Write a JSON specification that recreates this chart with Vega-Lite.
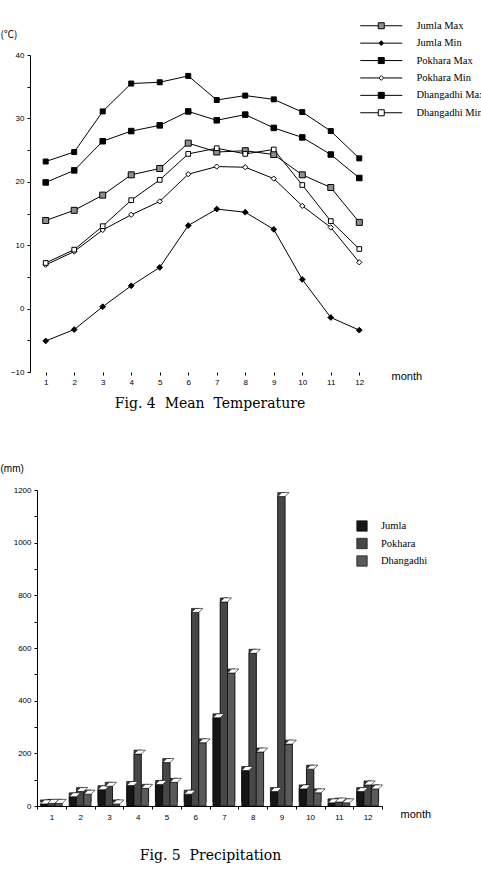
{
  "$schema": "https://vega.github.io/schema/vega-lite/v6.json",
  "padding": {"left": 0, "top": 20, "right": 0, "bottom": 0},
  "background": "white",
  "columns": 1,
  "align": "none",
  "bounds": "full",
  "spacing": 52,
  "config": {
    "view": {"stroke": null},
    "axis": {
      "grid": false,
      "domainColor": "black",
      "domainWidth": 1,
      "tickColor": "black",
      "tickWidth": 1,
      "labelColor": "black",
      "labelFont": "Liberation Sans",
      "labelFontSize": 8,
      "titleColor": "black",
      "titleFontWeight": "normal",
      "labelOverlap": false
    },
    "legend": {
      "orient": "none",
      "padding": 0,
      "labelColor": "black",
      "labelFont": "Liberation Serif",
      "labelFontSize": 10.5
    }
  },
  "resolve": {
    "scale": {"fill": "independent", "shape": "independent"},
    "legend": {"fill": "independent", "shape": "independent"}
  },
  "datasets": {
    "temp": [
      {"month": 1, "series": "Jumla Max", "t": 13.9}, {"month": 2, "series": "Jumla Max", "t": 15.5}, {"month": 3, "series": "Jumla Max", "t": 17.9}, {"month": 4, "series": "Jumla Max", "t": 21.1}, {"month": 5, "series": "Jumla Max", "t": 22.1}, {"month": 6, "series": "Jumla Max", "t": 26.1}, {"month": 7, "series": "Jumla Max", "t": 24.7}, {"month": 8, "series": "Jumla Max", "t": 24.9}, {"month": 9, "series": "Jumla Max", "t": 24.3}, {"month": 10, "series": "Jumla Max", "t": 21.1}, {"month": 11, "series": "Jumla Max", "t": 19.1}, {"month": 12, "series": "Jumla Max", "t": 13.6},
      {"month": 1, "series": "Jumla Min", "t": -5.1}, {"month": 2, "series": "Jumla Min", "t": -3.3}, {"month": 3, "series": "Jumla Min", "t": 0.3}, {"month": 4, "series": "Jumla Min", "t": 3.6}, {"month": 5, "series": "Jumla Min", "t": 6.5}, {"month": 6, "series": "Jumla Min", "t": 13.1}, {"month": 7, "series": "Jumla Min", "t": 15.7}, {"month": 8, "series": "Jumla Min", "t": 15.2}, {"month": 9, "series": "Jumla Min", "t": 12.5}, {"month": 10, "series": "Jumla Min", "t": 4.6}, {"month": 11, "series": "Jumla Min", "t": -1.4}, {"month": 12, "series": "Jumla Min", "t": -3.4},
      {"month": 1, "series": "Pokhara Max", "t": 19.9}, {"month": 2, "series": "Pokhara Max", "t": 21.8}, {"month": 3, "series": "Pokhara Max", "t": 26.4}, {"month": 4, "series": "Pokhara Max", "t": 28.0}, {"month": 5, "series": "Pokhara Max", "t": 28.9}, {"month": 6, "series": "Pokhara Max", "t": 31.1}, {"month": 7, "series": "Pokhara Max", "t": 29.7}, {"month": 8, "series": "Pokhara Max", "t": 30.6}, {"month": 9, "series": "Pokhara Max", "t": 28.5}, {"month": 10, "series": "Pokhara Max", "t": 27.0}, {"month": 11, "series": "Pokhara Max", "t": 24.3}, {"month": 12, "series": "Pokhara Max", "t": 20.6},
      {"month": 1, "series": "Pokhara Min", "t": 6.9}, {"month": 2, "series": "Pokhara Min", "t": 9.0}, {"month": 3, "series": "Pokhara Min", "t": 12.4}, {"month": 4, "series": "Pokhara Min", "t": 14.8}, {"month": 5, "series": "Pokhara Min", "t": 16.9}, {"month": 6, "series": "Pokhara Min", "t": 21.2}, {"month": 7, "series": "Pokhara Min", "t": 22.4}, {"month": 8, "series": "Pokhara Min", "t": 22.3}, {"month": 9, "series": "Pokhara Min", "t": 20.5}, {"month": 10, "series": "Pokhara Min", "t": 16.2}, {"month": 11, "series": "Pokhara Min", "t": 12.8}, {"month": 12, "series": "Pokhara Min", "t": 7.3},
      {"month": 1, "series": "Dhangadhi Max", "t": 23.2}, {"month": 2, "series": "Dhangadhi Max", "t": 24.7}, {"month": 3, "series": "Dhangadhi Max", "t": 31.1}, {"month": 4, "series": "Dhangadhi Max", "t": 35.5}, {"month": 5, "series": "Dhangadhi Max", "t": 35.7}, {"month": 6, "series": "Dhangadhi Max", "t": 36.7}, {"month": 7, "series": "Dhangadhi Max", "t": 32.9}, {"month": 8, "series": "Dhangadhi Max", "t": 33.6}, {"month": 9, "series": "Dhangadhi Max", "t": 33.0}, {"month": 10, "series": "Dhangadhi Max", "t": 31.0}, {"month": 11, "series": "Dhangadhi Max", "t": 28.0}, {"month": 12, "series": "Dhangadhi Max", "t": 23.7},
      {"month": 1, "series": "Dhangadhi Min", "t": 7.2}, {"month": 2, "series": "Dhangadhi Min", "t": 9.3}, {"month": 3, "series": "Dhangadhi Min", "t": 13.0}, {"month": 4, "series": "Dhangadhi Min", "t": 17.1}, {"month": 5, "series": "Dhangadhi Min", "t": 20.3}, {"month": 6, "series": "Dhangadhi Min", "t": 24.4}, {"month": 7, "series": "Dhangadhi Min", "t": 25.3}, {"month": 8, "series": "Dhangadhi Min", "t": 24.4}, {"month": 9, "series": "Dhangadhi Min", "t": 25.1}, {"month": 10, "series": "Dhangadhi Min", "t": 19.5}, {"month": 11, "series": "Dhangadhi Min", "t": 13.8}, {"month": 12, "series": "Dhangadhi Min", "t": 9.4}
    ],
    "rain": [
      {"month": 1, "station": "Jumla", "mm": 8}, {"month": 1, "station": "Pokhara", "mm": 10}, {"month": 1, "station": "Dhangadhi", "mm": 10},
      {"month": 2, "station": "Jumla", "mm": 35}, {"month": 2, "station": "Pokhara", "mm": 55}, {"month": 2, "station": "Dhangadhi", "mm": 45},
      {"month": 3, "station": "Jumla", "mm": 62}, {"month": 3, "station": "Pokhara", "mm": 75}, {"month": 3, "station": "Dhangadhi", "mm": 8},
      {"month": 4, "station": "Jumla", "mm": 78}, {"month": 4, "station": "Pokhara", "mm": 197}, {"month": 4, "station": "Dhangadhi", "mm": 67},
      {"month": 5, "station": "Jumla", "mm": 82}, {"month": 5, "station": "Pokhara", "mm": 165}, {"month": 5, "station": "Dhangadhi", "mm": 90},
      {"month": 6, "station": "Jumla", "mm": 45}, {"month": 6, "station": "Pokhara", "mm": 735}, {"month": 6, "station": "Dhangadhi", "mm": 240},
      {"month": 7, "station": "Jumla", "mm": 335}, {"month": 7, "station": "Pokhara", "mm": 775}, {"month": 7, "station": "Dhangadhi", "mm": 505},
      {"month": 8, "station": "Jumla", "mm": 135}, {"month": 8, "station": "Pokhara", "mm": 580}, {"month": 8, "station": "Dhangadhi", "mm": 205},
      {"month": 9, "station": "Jumla", "mm": 55}, {"month": 9, "station": "Pokhara", "mm": 1175}, {"month": 9, "station": "Dhangadhi", "mm": 235},
      {"month": 10, "station": "Jumla", "mm": 65}, {"month": 10, "station": "Pokhara", "mm": 140}, {"month": 10, "station": "Dhangadhi", "mm": 50},
      {"month": 11, "station": "Jumla", "mm": 12}, {"month": 11, "station": "Pokhara", "mm": 15}, {"month": 11, "station": "Dhangadhi", "mm": 12},
      {"month": 12, "station": "Jumla", "mm": 55}, {"month": 12, "station": "Pokhara", "mm": 80}, {"month": 12, "station": "Dhangadhi", "mm": 65}
    ]
  },
  "concat": [
    {
      "width": 337,
      "height": 317,
      "data": {"name": "temp"},
      "title": {"text": "Fig. 4\u00a0\u00a0Mean\u00a0\u00a0Temperature", "orient": "bottom", "anchor": "middle", "font": "DejaVu Serif", "fontSize": 14, "fontWeight": "normal", "color": "black", "offset": 11, "dx": 4.5},
      "encoding": {
        "x": {
          "field": "month", "type": "quantitative",
          "scale": {"domain": [0.695, 12.516], "nice": false, "zero": false},
          "axis": {
            "values": [1, 2, 3, 4, 5, 6, 7, 8, 9, 10, 11, 12], "format": "d", "domain": false,
            "tickSize": 3, "labelPadding": 3, "labelFlush": false,
            "title": "month", "titleX": 354, "titleY": 4, "titleAlign": "left", "titleBaseline": "middle",
            "titleFont": "Liberation Sans", "titleFontSize": 11
          }
        },
        "y": {
          "field": "t", "type": "quantitative",
          "scale": {"domain": [-10, 40], "nice": false, "zero": false},
          "axis": {
            "values": [-10, -5, 0, 5, 10, 15, 20, 25, 30, 35, 40],
            "labelExpr": "datum.value % 10 === 0 ? datum.label : ''",
            "tickSize": 3, "labelPadding": 3, "offset": 7,
            "title": "(℃)", "titleAngle": 0, "titleX": -30, "titleY": -21, "titleAlign": "left", "titleBaseline": "middle",
            "titleFont": "Noto Sans CJK JP", "titleFontSize": 10
          }
        }
      },
      "layer": [
        {
          "data": {"values": [{}]},
          "mark": {"type": "rule", "color": "black", "strokeWidth": 1},
          "encoding": {
            "x": {"datum": 0.449, "type": "quantitative"},
            "x2": {"datum": 12.516},
            "y": {"datum": -10, "type": "quantitative"}
          }
        },
        {
          "mark": {"type": "line", "color": "black", "strokeWidth": 1},
          "encoding": {"detail": {"field": "series"}}
        },
        {
          "mark": {"type": "point", "filled": true, "stroke": "black", "strokeWidth": 1, "opacity": 1},
          "encoding": {
            "shape": {"field": "series", "legend": null, "scale": {
              "domain": ["Jumla Max", "Jumla Min", "Pokhara Max", "Pokhara Min", "Dhangadhi Max", "Dhangadhi Min"],
              "range": ["square", "diamond", "square", "diamond", "square", "square"]}},
            "fill": {"field": "series", "legend": null, "scale": {
              "domain": ["Jumla Max", "Jumla Min", "Pokhara Max", "Pokhara Min", "Dhangadhi Max", "Dhangadhi Min"],
              "range": ["#8e8e8e", "black", "black", "white", "black", "white"]}},
            "size": {"field": "series", "legend": null, "scale": {
              "domain": ["Jumla Max", "Jumla Min", "Pokhara Max", "Pokhara Min", "Dhangadhi Max", "Dhangadhi Min"],
              "range": [36, 22, 36, 22, 36, 36]}}
          }
        },
        {
          "transform": [{"filter": "datum.month > 99"}],
          "mark": {"type": "point", "filled": true, "stroke": "black", "strokeWidth": 1, "opacity": 1},
          "encoding": {
            "shape": {"field": "series", "scale": {
              "domain": ["Jumla Max", "Jumla Min", "Pokhara Max", "Pokhara Min", "Dhangadhi Max", "Dhangadhi Min"],
              "range": [
                "M-7,0H-1M1,0H7M-1,-1H1V1H-1Z",
                "M-7,0H-0.8M0.8,0H7M-0.8,0L0,-0.8L0.8,0L0,0.8Z",
                "M-7,0H-1M1,0H7M-1,-1H1V1H-1Z",
                "M-7,0H-0.8M0.8,0H7M-0.8,0L0,-0.8L0.8,0L0,0.8Z",
                "M-7,0H-1M1,0H7M-1,-1H1V1H-1Z",
                "M-7,0H-1M1,0H7M-1,-1H1V1H-1Z"
              ]},
              "legend": {"title": null, "legendX": 339, "legendY": -34.5, "symbolSize": 36, "symbolStrokeWidth": 1, "labelOffset": 30, "rowPadding": 6.4}
            },
            "fill": {"field": "series", "scale": {
              "domain": ["Jumla Max", "Jumla Min", "Pokhara Max", "Pokhara Min", "Dhangadhi Max", "Dhangadhi Min"],
              "range": ["#8e8e8e", "black", "black", "white", "black", "white"]},
              "legend": {"title": null, "legendX": 339, "legendY": -34.5, "symbolSize": 36, "labelOffset": 30, "rowPadding": 6.4}
            }
          }
        }
      ],
      "resolve": {"scale": {"shape": "independent", "fill": "independent", "size": "independent"}}
    },
    {
      "width": 345,
      "height": 316,
      "data": {"name": "rain"},
      "title": {"text": "Fig. 5\u00a0\u00a0Precipitation", "orient": "bottom", "anchor": "middle", "font": "DejaVu Serif", "fontSize": 14, "fontWeight": "normal", "color": "black", "offset": 28, "dx": 1},
      "encoding": {
        "x": {
          "field": "month", "type": "ordinal",
          "scale": {"paddingInner": 0, "paddingOuter": 0},
          "axis": {
            "labelAngle": 0, "tickBand": "extent", "tickSize": 3, "labelPadding": 4,
            "title": "month", "titleX": 363, "titleY": 8, "titleAlign": "left", "titleBaseline": "middle",
            "titleFont": "Liberation Sans", "titleFontSize": 11
          }
        },
        "xOffset": {
          "field": "station", "type": "nominal",
          "scale": {"domain": ["Jumla", "Pokhara", "Dhangadhi"], "paddingInner": 0, "paddingOuter": 0.47}
        },
        "y": {
          "field": "mm", "type": "quantitative",
          "scale": {"domain": [0, 1200], "nice": false},
          "axis": {
            "values": [0, 100, 200, 300, 400, 500, 600, 700, 800, 900, 1000, 1100, 1200],
            "labelExpr": "datum.value % 200 === 0 ? datum.value : ''",
            "tickSize": 3, "labelPadding": 3,
            "title": "(mm)", "titleAngle": 0, "titleX": -37, "titleY": -22, "titleAlign": "left", "titleBaseline": "middle",
            "titleFont": "Liberation Sans", "titleFontSize": 10
          }
        }
      },
      "layer": [
        {
          "mark": {"type": "bar", "fill": "#3e3e3e", "stroke": "black", "strokeWidth": 0.6, "xOffset": 4, "yOffset": -4, "y2Offset": -4}
        },
        {
          "mark": {"type": "bar", "stroke": "black", "strokeWidth": 0.6, "opacity": 1},
          "encoding": {
            "fill": {"field": "station", "scale": {"domain": ["Jumla", "Pokhara", "Dhangadhi"], "range": ["#161616", "#474747", "#5a5a5a"]},
              "legend": {"title": null, "legendX": 319, "legendY": 30, "symbolType": "square", "symbolSize": 110, "symbolStrokeColor": "black", "symbolStrokeWidth": 0.6, "labelOffset": 13, "rowPadding": 3.5}}
          }
        },
        {
          "mark": {"type": "point", "filled": true, "shape": "M-0.456,0L0.456,0L0.956,-0.5L0.044,-0.5Z", "size": 256, "fill": "white", "stroke": "black", "strokeWidth": 0.6, "opacity": 1}
        }
      ]
    }
  ]
}
